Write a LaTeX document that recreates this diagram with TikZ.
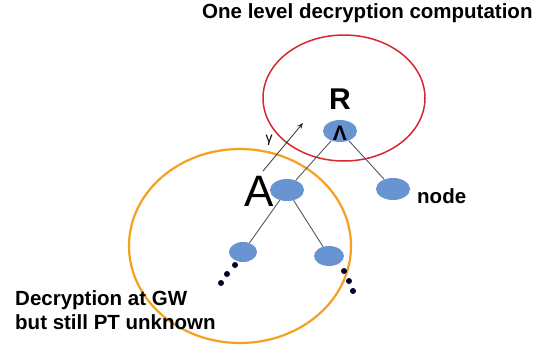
\documentclass[tikz,border=0pt]{standalone}
\usepackage{fontspec}
\setmainfont{Liberation Sans}
\usetikzlibrary{arrows.meta,shapes.geometric}
\begin{document}
\begin{tikzpicture}[x=1pt,y=-1pt,
  tnode/.style={ellipse,draw=none,minimum width=34pt,minimum height=22pt,inner sep=0pt},
  tedge/.style={draw=gray!70!black,line width=0.9pt},
  dotc/.style={circle,fill=black!85!blue,inner sep=0pt,minimum size=6pt},
  lbl/.style={font=\bfseries,inner sep=0pt}]
\useasboundingbox (0,0) rectangle (544,354);
\fill[white] (0,0) rectangle (544,354);
\definecolor{nodeblue}{RGB}{105,148,210}
\definecolor{ringred}{RGB}{215,40,50}
\definecolor{ringorange}{RGB}{245,160,30}
\tikzset{tnode/.append style={fill=nodeblue}}
% rings
\draw[ringred,line width=1.5pt] (344,98) ellipse [x radius=81, y radius=63];
\draw[ringorange,line width=2.2pt] (240,246) ellipse [x radius=111, y radius=97];
% nodes
\node[tnode] (r) at (340,131) {};
\node[tnode] (a) at (287,190) {};
\node[tnode] (n) at (393,189) {};
\node[tnode,minimum width=28pt,minimum height=20pt] (ll) at (243,252) {};
\node[tnode,minimum width=30pt,minimum height=20pt] (lr) at (329,256) {};
\draw[tedge] (r) -- (a);
\draw[tedge] (r) -- (n);
\draw[tedge] (a) -- (ll);
\draw[tedge] (a) -- (lr);
\node[font=\bfseries\fontsize{21}{21}\selectfont,inner sep=0pt,anchor=base] (car) at (340,140) {Λ};
% arrow
\coordinate (gs) at (263,171);
\coordinate (ge) at (303,123);
\draw[-{Stealth[length=6pt,width=5pt]},line width=0.8pt,black!80] (gs) -- (ge);
\node[font=\fontsize{14}{14}\selectfont,inner sep=0pt] (gam) at (269,140) {γ};
% labels
\node[lbl,font=\bfseries\fontsize{30}{30}\selectfont] (rl) at (340,99) {R};
\node[inner sep=0pt,font=\fontsize{44}{44}\selectfont] (al) at (259,191) {A};
\node[lbl,font=\bfseries\fontsize{20.5}{20.5}\selectfont,anchor=west] (nl) at (417,196) {node};
\node[lbl,font=\bfseries\fontsize{20.5}{20.5}\selectfont,anchor=west] (title) at (202,13) {One level decryption computation};
\node[lbl,font=\bfseries\fontsize{20.5}{24}\selectfont,anchor=north west,align=left] (gw) at (15,290) {Decryption at GW\\but still PT unknown};
% dots
\node[dotc] (d1) at (235,265) {};
\node[dotc] (d2) at (227,274) {};
\node[dotc] (d3) at (221,283) {};
\node[dotc] (d4) at (344,271) {};
\node[dotc] (d5) at (349,281) {};
\node[dotc] (d6) at (353,291) {};
\end{tikzpicture}
\end{document}
